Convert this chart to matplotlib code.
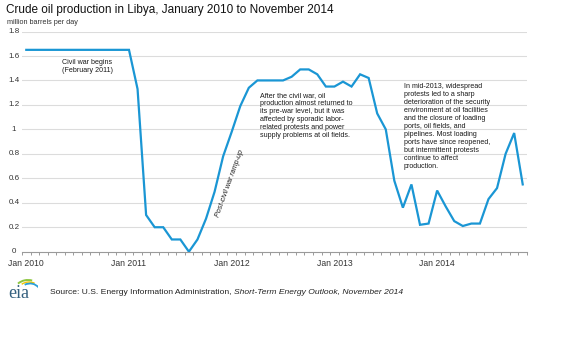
import matplotlib
matplotlib.use("Agg")
import matplotlib.pyplot as plt
from matplotlib.patches import Arc
import numpy as np

# ---- data ----
month_labels = ["Jan 2010", "Jan 2011", "Jan 2012", "Jan 2013", "Jan 2014"]
label_positions = [0, 12, 24, 36, 48]
production = [
    1.65, 1.65, 1.65, 1.65, 1.65, 1.65, 1.65, 1.65, 1.65, 1.65, 1.65, 1.65,  # 2010
    1.65, 1.33, 0.30, 0.20, 0.20, 0.10, 0.10, 0.00, 0.10, 0.27, 0.49, 0.78,  # 2011
    0.98, 1.19, 1.34, 1.40, 1.40, 1.40, 1.40, 1.43, 1.49, 1.49, 1.45, 1.35,  # 2012
    1.35, 1.39, 1.35, 1.45, 1.42, 1.13, 1.00, 0.58, 0.36, 0.55, 0.22, 0.23,  # 2013
    0.50, 0.37, 0.25, 0.21, 0.23, 0.23, 0.43, 0.52, 0.80, 0.97, 0.55,        # 2014
]
y_ticks = [0, 0.2, 0.4, 0.6, 0.8, 1, 1.2, 1.4, 1.6, 1.8]
y_tick_labels = ["0", "0.2", "0.4", "0.6", "0.8", "1", "1.2", "1.4", "1.6", "1.8"]

plt.rcParams['font.family'] = ['Liberation Sans', 'DejaVu Sans']

W, H = 575, 344
fig = plt.figure(figsize=(W / 100, H / 100), dpi=100)
fig.patch.set_facecolor('white')

def fx(px):
    return px / W

def fy(py):
    return 1 - py / H

ax = fig.add_axes([fx(22), fy(251.7), fx(527) - fx(22), fy(31.5) - fy(251.7)])
x = np.arange(len(production))
ax.plot(x, production, color='#1a96d4', lw=1.6, solid_joinstyle='miter', zorder=3)

ax.set_xlim(-0.5, len(production) - 0.5)
ax.set_ylim(0, 1.8)

for sp in ['top', 'right', 'left']:
    ax.spines[sp].set_visible(False)
ax.spines['bottom'].set_color('#9a9a9a')
ax.spines['bottom'].set_linewidth(0.8)

ax.set_yticks(y_ticks)
ax.set_yticklabels([])
ax.tick_params(axis='y', length=0)
for v in y_ticks[1:]:
    ax.axhline(v, color='#dcdcdc', lw=0.8, zorder=1)
for v, lab in zip(y_ticks, y_tick_labels):
    fig.text(fx(14), fy(251.7 - v * 122.3), lab, ha='center', va='center',
             fontsize=5.8, color='#333333')

ax.set_xticks(label_positions)
ax.set_xticklabels(month_labels, fontsize=6.2, color='#333333')
ax.tick_params(axis='x', length=0, pad=5)
ax.set_xticks(np.arange(-0.5, len(production), 1.0), minor=True)
ax.tick_params(axis='x', which='minor', length=2.5, color='#9a9a9a', width=0.7)

# title and units
fig.text(fx(6), fy(10), "Crude oil production in Libya, January 2010 to November 2014",
         fontsize=8.5, color='#111111', ha='left', va='center')
fig.text(fx(7), fy(22.5), "million barrels per day", fontsize=5.2, color='#333333',
         ha='left', va='center')

# annotations
ann_kw = dict(fontsize=5.1, color='#1a1a1a', ha='left', va='top', linespacing=1.2)
fig.text(fx(61.5), fy(58.5), "Civil war begins\n(February 2011)", **ann_kw)
fig.text(fx(260), fy(92.5),
         "After the civil war, oil\nproduction almost returned to\nits pre-war level, but it was\n"
         "affected by sporadic labor-\nrelated protests and power\nsupply problems at oil fields.",
         **ann_kw)
fig.text(fx(404), fy(82.5),
         "In mid-2013, widespread\nprotests led to a sharp\ndeterioration of the security\n"
         "environment at oil facilities\nand the closure of loading\nports, oil fields, and\n"
         "pipelines. Most loading\nports have since reopened,\nbut intermittent protests\n"
         "continue to affect\nproduction.",
         **ann_kw)
fig.text(fx(230), fy(183), "Post-civil war ramp-up", fontsize=5.1, style='italic',
         color='#1a1a1a', rotation=70, ha='center', va='center')

# source line
src1 = fig.text(fx(50), fy(293), "Source: U.S. Energy Information Administration, ",
                fontsize=6.1, color='#222222', ha='left', va='center')
fig.canvas.draw()
bb = src1.get_window_extent()
fig.text(bb.x1 / W, fy(293), "Short-Term Energy Outlook, November 2014",
         fontsize=6.1, style='italic', color='#222222', ha='left', va='center')

# eia logo
fig.text(fx(8), fy(294), "eia", fontsize=13, family='Liberation Serif',
         color='#34607f', ha='left', va='center')
lax = fig.add_axes([fx(10), fy(290), fx(38) - fx(10), fy(278) - fy(290)])
lax.set_xlim(0, 28)
lax.set_ylim(0, 12)
lax.axis('off')
lax.add_patch(Arc((18, -2), 28, 24, theta1=70, theta2=140, color='#8cc63f', lw=1.4))
lax.add_patch(Arc((19, -3), 24, 22, theta1=60, theta2=130, color='#f2c500', lw=1.0))
lax.add_patch(Arc((20, -4), 22, 21, theta1=35, theta2=120, color='#2a9fd8', lw=1.3))

fig.savefig("out.png", dpi=100)
